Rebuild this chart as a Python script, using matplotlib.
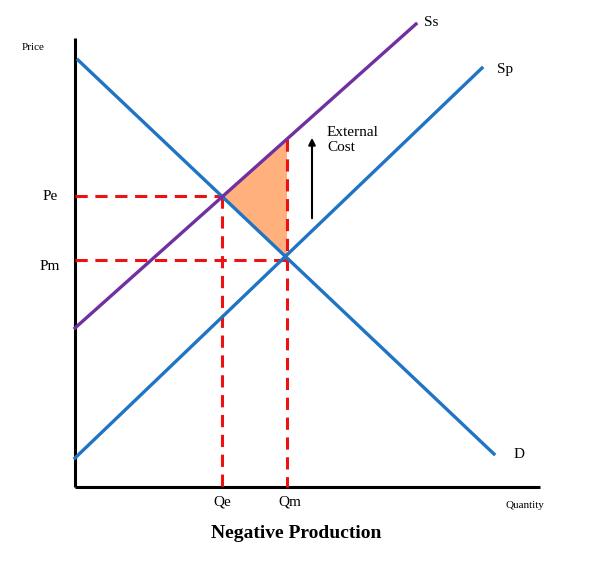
import matplotlib

matplotlib.use("Agg")
import matplotlib.pyplot as plt
from matplotlib.patches import Polygon

plt.rcParams["font.family"] = ["Liberation Serif", "DejaVu Serif"]

# curve endpoints, read in picture pixel units (x right, y down)
demand_x = [78, 494]
demand_y = [60, 454]
private_x = [75, 482]
private_y = [458, 68]
social_x = [75, 416]
social_y = [328, 24]

pe, pm = 196, 260
qe, qm = 222, 287
x0, y0 = 75, 487

fig = plt.figure(figsize=(5.93, 5.72), dpi=100)
ax = fig.add_axes([0, 0, 1, 1])
ax.set_xlim(0, 593)
ax.set_ylim(572, 0)
ax.axis("off")

# axes
ax.plot([x0, x0], [38, y0], color="black", lw=2.2, solid_capstyle="butt")
ax.plot([x0, 540], [y0, y0], color="black", lw=2.2, solid_capstyle="butt")

# welfare loss triangle
top_m = social_y[0] + (social_y[1] - social_y[0]) * (qm - social_x[0]) / (social_x[1] - social_x[0])
ax.add_patch(Polygon([(qe, pe), (qm, top_m), (qm, pm)], closed=True,
                     facecolor="#ffb07c", edgecolor="none", zorder=1))

# dashed guides
red = dict(color="#ee1111", lw=2.2, ls=(0, (4, 2.5)), zorder=2)
ax.plot([x0, qe], [pe, pe], **red)
ax.plot([qe, qe], [pe, y0], **red)
ax.plot([x0, qm], [pm, pm], **red)
ax.plot([qm, qm], [top_m, y0], **red)

ax.plot(demand_x, demand_y, color="#1f74c4", lw=2.4, zorder=3)
ax.plot(private_x, private_y, color="#1f74c4", lw=2.4, zorder=3)
ax.plot(social_x, social_y, color="#7030a0", lw=2.4, zorder=3)

ax.annotate("", xy=(312, 135), xytext=(312, 221),
            arrowprops=dict(arrowstyle="-|>", color="black", lw=1.5, mutation_scale=10))
ax.text(327, 140, "External\nCost", fontsize=11, ha="left", va="center", linespacing=1.2)

ax.text(22, 47, "Price", fontsize=8, ha="left", va="center")
ax.text(505, 506, "Quantity", fontsize=8, ha="left", va="center")
ax.text(50, 197, "Pe", fontsize=11, ha="center", va="center")
ax.text(50, 266, "Pm", fontsize=11, ha="center", va="center")
ax.text(222, 502, "Qe", fontsize=11, ha="center", va="center")
ax.text(290, 502, "Qm", fontsize=11, ha="center", va="center")
ax.text(424, 22, "Ss", fontsize=11, ha="left", va="center")
ax.text(497, 70, "Sp", fontsize=11, ha="left", va="center")
ax.text(514, 454, "D", fontsize=11, ha="left", va="center")
ax.text(296, 533, "Negative Production", fontsize=14, fontweight="bold",
        ha="center", va="center")

fig.savefig("out.png", dpi=100)
